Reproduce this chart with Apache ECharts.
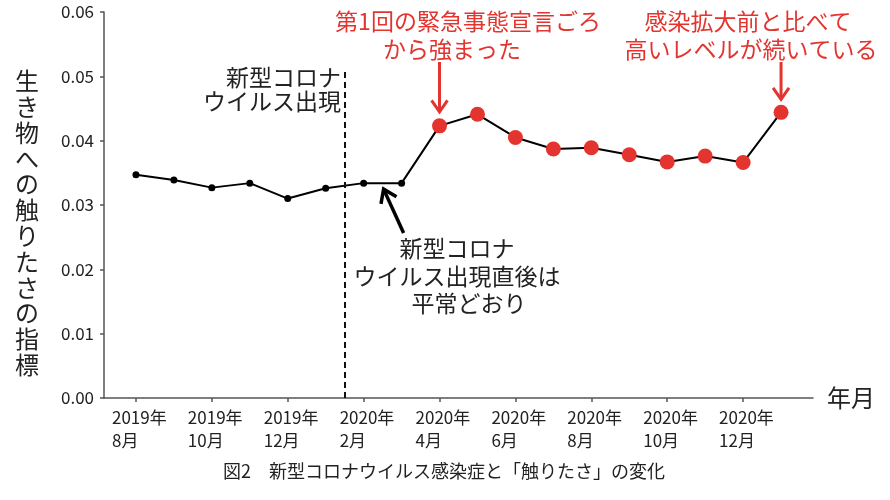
<!DOCTYPE html>
<html><head><meta charset="utf-8">
<script src="https://cdn.jsdelivr.net/npm/echarts@6/dist/echarts.min.js"></script>
<style>html,body{margin:0;padding:0;background:#fff}#c{width:890px;height:500px}</style>
</head><body><div id="c"></div>
<script>
// Months: index 0 = 2019年8月 ... index 17 = 2021年1月
const monthIndex = [0,1,2,3,4,5,6,7,8,9,10,11,12,13,14,15,16,17];
const touchIndex = [0.0347,0.0339,0.0327,0.0334,0.0310,0.0326,0.0334,0.0334,0.0423,0.0441,0.0405,0.0387,0.0389,0.0378,0.0367,0.0376,0.0366,0.0444];
const highlightFrom = 8; // red points from 2020年4月
const tickPositions = [0,2,4,6,8,10,12,14,16];
const tickLabels = ['2019年\n8月','2019年\n10月','2019年\n12月','2020年\n2月','2020年\n4月','2020年\n6月','2020年\n8月','2020年\n10月','2020年\n12月'];
const outbreakX = 5.5;

const FONT = '"Noto Sans CJK JP", "Noto Sans", sans-serif';
const RED = '#e3342f';

const chart = echarts.init(document.getElementById('c'), null, {renderer:'canvas'});
const seriesData = monthIndex.map((m,i)=>{
  const red = i >= highlightFrom;
  return {
    value:[m, touchIndex[i]],
    symbolSize: red ? 15 : 7,
    itemStyle: {color: red ? RED : '#000'}
  };
});

const option = {
  animation:false,
  textStyle:{fontFamily:FONT},
  grid:{left:104, right:77, top:12, bottom:102, containLabel:false},
  xAxis:{
    type:'value', min:-0.842, max:17.842,
    name:'年月', nameLocation:'end', nameGap:14,
    nameTextStyle:{fontSize:24, color:'#222', fontFamily:FONT, verticalAlign:'middle'},
    axisLine:{show:true, onZero:false, lineStyle:{color:'#555', width:1.5}},
    axisTick:{show:true, customValues:tickPositions, length:4, lineStyle:{color:'#555', width:1.5}},
    axisLabel:{customValues:tickPositions, align:'left', margin:8, fontSize:17, color:'#222', lineHeight:23,
      padding:[0,0,0,-24],
      formatter:(v)=>{const k=tickPositions.indexOf(Math.round(v)); return k>=0?tickLabels[k]:'';}},
    splitLine:{show:false}
  },
  yAxis:{
    type:'value', min:0, max:0.06, interval:0.01,
    axisLine:{show:true, onZero:false, lineStyle:{color:'#555', width:1.5}},
    axisTick:{show:true, length:4, lineStyle:{color:'#555', width:1.5}},
    axisLabel:{fontSize:17, color:'#222', margin:10, formatter:(v)=>v.toFixed(2)},
    splitLine:{show:false}
  },
  series:[{
    type:'line', data:seriesData, showSymbol:true, symbol:'circle',
    lineStyle:{color:'#000', width:2}, z:3,
    markLine:{
      silent:true, symbol:['none','none'], label:{show:false},
      lineStyle:{color:'#111', type:[6,4], width:2},
      data:[[{coord:[outbreakX,0]},{coord:[outbreakX,0.0508]}]]
    }
  }],
  graphic:[]
};
chart.setOption(option);

function px(x,y){return chart.convertToPixel({gridIndex:0},[x,y]);}
function arrow(p0,p1,color,w,head){
  const dx=p1[0]-p0[0], dy=p1[1]-p0[1], L=Math.hypot(dx,dy), ux=dx/L, uy=dy/L;
  const a=Math.PI/5.2;
  const h1=[p1[0]-head*(ux*Math.cos(a)-uy*Math.sin(a)), p1[1]-head*(uy*Math.cos(a)+ux*Math.sin(a))];
  const h2=[p1[0]-head*(ux*Math.cos(a)+uy*Math.sin(a)), p1[1]-head*(uy*Math.cos(a)-ux*Math.sin(a))];
  return [
    {type:'polyline', shape:{points:[p0,p1]}, style:{stroke:color, lineWidth:w, fill:null}, z:10},
    {type:'polyline', shape:{points:[h1,p1,h2]}, style:{stroke:color, lineWidth:w, fill:null, lineJoin:'miter'}, z:10}
  ];
}
function text(t,x,y,size,color,align,lh){
  return {type:'text', x:x, y:y, z:10, style:{text:t, fill:color, fontSize:size, fontFamily:FONT, align:align||'center', verticalAlign:'middle', lineHeight:lh||size}};
}

const g=[];
// Y axis title (vertical)
g.push(text('生\nき\n物\nへ\nの\n触\nり\nた\nさ\nの\n指\n標', 27, 223, 24, '#222', 'center', 25.8));
// Outbreak label
g.push(text('新型コロナ\nウイルス出現', 341, 89, 23, '#222', 'right', 24));
// Post-outbreak label
g.push(text('新型コロナ', 457, 248, 23, '#222', 'center'));
g.push(text('ウイルス出現直後は', 457, 276, 23, '#222', 'center'));
g.push(text('平常どおり', 469, 303, 23, '#222', 'center'));
// Red labels
g.push(text('第1回の緊急事態宣言ごろ', 468, 21, 23, RED, 'center'));
g.push(text('から強まった', 452, 49, 23, RED, 'center'));
g.push(text('感染拡大前と比べて', 748, 21, 23, RED, 'center'));
g.push(text('高いレベルが続いている', 751, 49, 23, RED, 'center'));
// Caption
g.push(text('図2　新型コロナウイルス感染症と「触りたさ」の変化', 444, 471, 18, '#222', 'center'));
// Arrows
const pA = px(8, touchIndex[8]);
g.push(...arrow([pA[0], 62],[pA[0], pA[1]-14], RED, 3, 14));
const pB = px(17, touchIndex[17]);
g.push(...arrow([pB[0], 62],[pB[0], pB[1]-13], RED, 3, 14));
const pC = px(6.5, touchIndex[6]);
g.push(...arrow([pC[0]+21, 233],[pC[0]+1, pC[1]+6], '#000', 3.5, 15));
chart.setOption({graphic:g});
</script></body></html>
